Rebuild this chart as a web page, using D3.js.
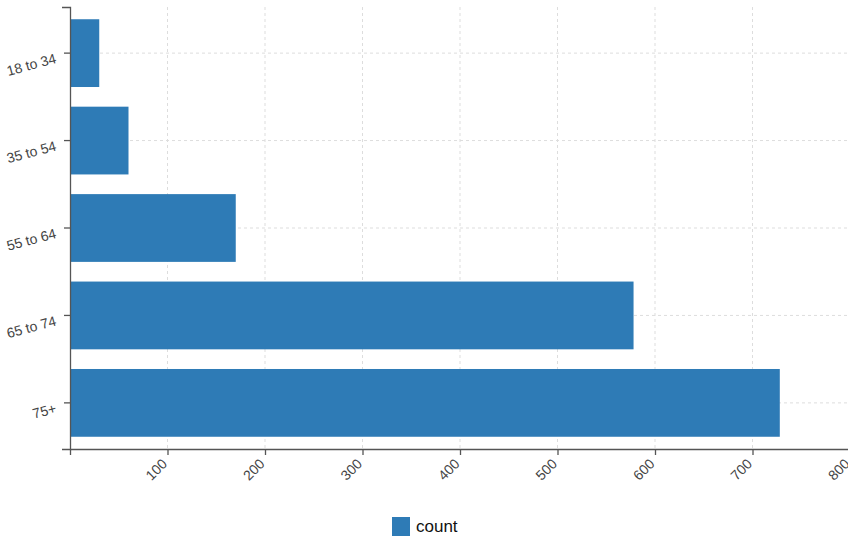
<!DOCTYPE html>
<html><head><meta charset="utf-8">
<script src="https://cdn.jsdelivr.net/npm/d3@7"></script>
<style>
html,body{margin:0;padding:0;background:#fff;overflow:hidden}
svg{display:block;font-family:"Liberation Sans",Arial,sans-serif}
.grid line{stroke:#ddd;stroke-dasharray:3,3;stroke-width:1}
.axis path,.axis line{stroke:#555;stroke-width:1.3}
.axis text{fill:#444;font-size:14px}
</style></head>
<body>
<script>
const categories = ["18 to 34","35 to 54","55 to 64","65 to 74","75+"];
const counts = [30, 60, 170, 578, 728];
const seriesName = "count";
const xTicks = [0,100,200,300,400,500,600,700,800];

const W = 848, H = 540;
const m = {left:70, top:7};
const pw = 780, ph = 442;

const svg = d3.select("body").append("svg").attr("width",W).attr("height",H);
const g = svg.append("g").attr("transform",`translate(${m.left},${m.top})`);

const x = d3.scaleLinear().domain([0,800]).range([0,pw]);
const y = d3.scaleBand().domain(categories).range([0,ph]).paddingInner(0.225).paddingOuter(0.14);

// grid
const grid = g.append("g").attr("class","grid");
grid.selectAll(".v").data(xTicks.slice(1)).enter().append("line")
  .attr("x1",d=>x(d)).attr("x2",d=>x(d)).attr("y1",0).attr("y2",ph);
grid.selectAll(".h").data(categories).enter().append("line")
  .attr("x1",0).attr("x2",pw).attr("y1",d=>y(d)+y.bandwidth()/2).attr("y2",d=>y(d)+y.bandwidth()/2);

// bars
g.selectAll(".bar").data(categories).enter().append("rect")
  .attr("x",x(0)).attr("y",d=>y(d))
  .attr("width",(d,i)=>x(counts[i])-x(0)).attr("height",y.bandwidth())
  .attr("fill","#2e7bb6");

// y axis
const ya = g.append("g").attr("class","axis").call(d3.axisLeft(y).tickSizeInner(6).tickSizeOuter(8));
ya.selectAll("text").attr("transform","rotate(-15)").attr("dx","-6").attr("dy","6").style("text-anchor","end");

// x axis
const xa = g.append("g").attr("class","axis").attr("transform",`translate(0,${ph})`)
  .call(d3.axisBottom(x).tickValues(xTicks).tickFormat(d=>d===0?"":d).tickSizeInner(6).tickSizeOuter(0));
xa.selectAll("text").attr("transform","rotate(-45)").attr("dx","-0.8em").attr("dy","0.15em").style("text-anchor","end");

// legend
const lg = svg.append("g").attr("transform","translate(392,517)");
lg.append("rect").attr("width",18).attr("height",19).attr("fill","#2e7bb6");
lg.append("text").attr("x",24).attr("y",15).attr("font-size",17).attr("fill","#111").text(seriesName);
</script>
</body></html>
